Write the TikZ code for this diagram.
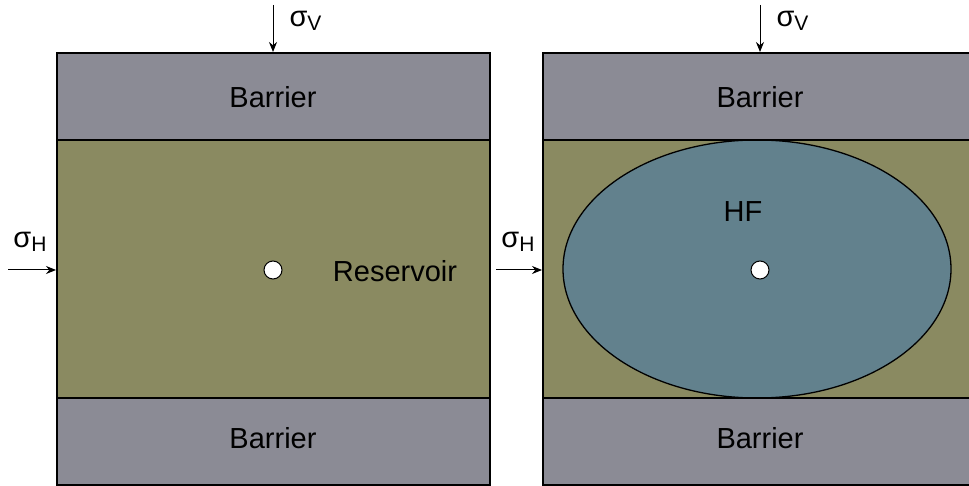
\documentclass[tikz,border=0pt]{standalone}
\usepackage{fontspec}
\setmainfont{Liberation Sans}
\usetikzlibrary{arrows.meta}
\begin{document}
\begin{tikzpicture}[x=1pt,y=-1pt,
  lbl/.style={font=\fontsize{29}{34}\selectfont},
  barrier/.style={fill=barcol,draw=black,line width=2pt},
  res/.style={fill=rescol,draw=black,line width=2pt},
  arr/.style={-{Stealth[length=10pt,width=8pt]},line width=1pt},
  hole/.style={circle,fill=white,draw=black,line width=1pt,minimum size=18pt,inner sep=0pt}]
\definecolor{barcol}{HTML}{8B8B95}
\definecolor{rescol}{HTML}{8A8A61}
\definecolor{hfcol}{HTML}{62818D}
\newcommand{\sub}[1]{\raisebox{-0.3ex}{\fontsize{21}{24}\selectfont #1}}
\useasboundingbox (0,0) rectangle (969,486);
% left panel
\draw[res] (57,140) rectangle (490,398);
\draw[barrier] (57,53) rectangle (490,140);
\draw[barrier] (57,398) rectangle (490,485);
\node[lbl] (b1) at (273,97) {Barrier};
\node[lbl] (b2) at (273,438) {Barrier};
\node[lbl] (r1) at (395,271) {Reservoir};
\node[hole] (h1) at (273,270) {};
\coordinate (v1s) at (273,5);
\coordinate (v1e) at (273,52);
\draw[arr] (v1s) -- (v1e);
\node[lbl,anchor=west] (sv1) at (286,21) {σ\sub{V}};
\coordinate (h1s) at (8,270);
\coordinate (h1e) at (56,270);
\draw[arr] (h1s) -- (h1e);
\node[lbl] (sh1) at (30,242) {σ\sub{H}};
% right panel
\draw[res] (543,140) rectangle (975,398);
\fill[hfcol] (757,269) ellipse [x radius=194, y radius=129];
\draw[line width=1.3pt] (757,269) ellipse [x radius=194, y radius=129];
\draw[barrier] (543,53) rectangle (975,140);
\draw[barrier] (543,398) rectangle (975,485);
\node[lbl] (b3) at (760,97) {Barrier};
\node[lbl] (b4) at (760,438) {Barrier};
\node[lbl] (hf) at (743,212) {HF};
\node[hole] (h2) at (760,270) {};
\coordinate (v2s) at (760,5);
\coordinate (v2e) at (760,52);
\draw[arr] (v2s) -- (v2e);
\node[lbl,anchor=west] (sv2) at (773,21) {σ\sub{V}};
\coordinate (h2s) at (496,270);
\coordinate (h2e) at (542,270);
\draw[arr] (h2s) -- (h2e);
\node[lbl] (sh2) at (518,242) {σ\sub{H}};
\end{tikzpicture}
\end{document}
